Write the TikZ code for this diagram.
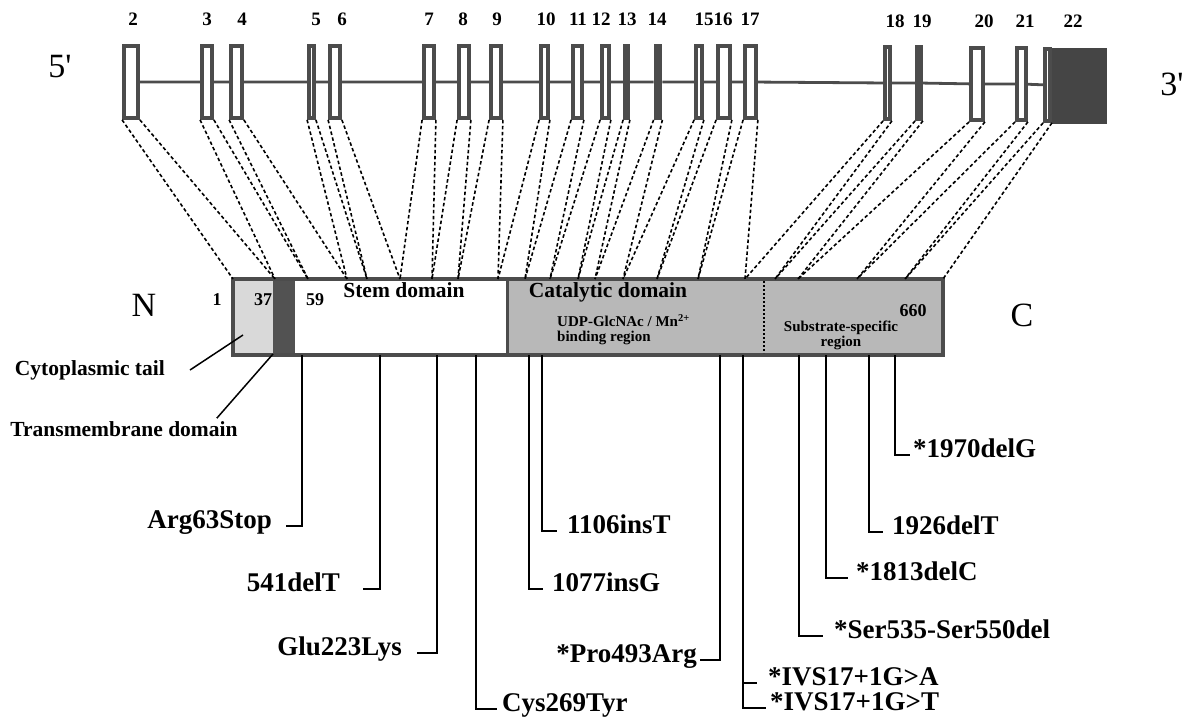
\documentclass[tikz,border=0pt]{standalone}
\usepackage{fontspec}
\setmainfont{Liberation Serif}
\definecolor{exline}{gray}{0.3}
\definecolor{utrfill}{gray}{0.27}
\definecolor{cytofill}{gray}{0.85}
\definecolor{tmfill}{gray}{0.32}
\definecolor{catfill}{gray}{0.72}
\begin{document}
\begin{tikzpicture}[x=1pt, y=-1pt,
    exon/.style={draw=exline, line width=3.8pt, fill=white, minimum height=72pt, inner sep=0pt},
    darkexon/.style={exon, fill=exline},
    intron/.style={draw=exline, line width=2.8pt},
    link/.style={dash pattern=on 3.5pt off 2.5pt, line width=1.6pt},
    mut/.style={line width=1.5pt},
    num/.style={font=\bfseries\fontsize{19}{19}\selectfont, inner sep=0pt},
    endlbl/.style={font=\fontsize{34}{34}\selectfont, inner sep=0pt},
    bartext/.style={font=\bfseries\fontsize{18}{18}\selectfont, inner sep=0pt},
    domtext/.style={font=\bfseries\fontsize{21.5}{21.5}\selectfont, inner sep=0pt, text height=0.68em, text depth=0.2em},
    region/.style={font=\bfseries\fontsize{15}{15}\selectfont, inner sep=0pt},
    side/.style={font=\bfseries\fontsize{21.5}{21.5}\selectfont, inner sep=3pt},
    mlabel/.style={font=\bfseries\fontsize{27}{27}\selectfont, text height=0.68em, text depth=0.2em, inner ysep=0pt}]

    \useasboundingbox (0,0) rectangle (1192,728);

    % gene: exons 2 to 22
    \node[exon, minimum width=14pt] (e2) at (131,82) {};
    \node[exon, minimum width=10pt] (e3) at (207,82) {};
    \node[exon, minimum width=11pt] (e4) at (236.5,82) {};
    \node[exon, minimum width=5pt] (e5) at (311.5,82) {};
    \node[exon, minimum width=10pt] (e6) at (335,82) {};
    \node[exon, minimum width=10pt] (e7) at (429,82) {};
    \node[exon, minimum width=10pt] (e8) at (464,82) {};
    \node[exon, minimum width=10pt] (e9) at (496,82) {};
    \node[exon, minimum width=7pt] (e10) at (544.5,82) {};
    \node[exon, minimum width=9pt] (e11) at (577.5,82) {};
    \node[exon, minimum width=7pt] (e12) at (605.5,82) {};
    \node[darkexon, minimum width=3pt] (e13) at (626.5,82) {};
    \node[darkexon, minimum width=5pt] (e14) at (658,82) {};
    \node[exon, minimum width=6pt] (e15) at (699,82) {};
    \node[exon, minimum width=12pt] (e16) at (724,82) {};
    \node[exon, minimum width=11pt] (e17) at (750.5,82) {};
    \node[exon, minimum width=5pt] (e18) at (887.5,83) {};
    \node[darkexon, minimum width=4pt] (e19) at (919,83) {};
    \node[exon, minimum width=12pt] (e20) at (977,84) {};
    \node[exon, minimum width=9pt] (e21) at (1021.5,84) {};
    \node[exon, minimum width=5pt] (e22) at (1047.5,85) {};
    \node[fill=utrfill, minimum width=55pt, minimum height=76pt, inner sep=0pt] (utr) at (1079.5,86) {};
    \draw[intron] (e2) -- (e3) -- (e4) -- (e5) -- (e6) -- (e7) -- (e8) -- (e9) -- (e10) -- (e11) -- (e12)
        -- (e13) -- (e14) -- (e15) -- (e16) -- (e17) -- (e18) -- (e19) -- (e20) -- (e21) -- (e22);

    \node[endlbl] (five) at (60,67) {5\textquotesingle};
    \node[endlbl] (three) at (1172,84) {3\textquotesingle};

    \node[num] (n2) at (133,19) {2};
    \node[num] (n3) at (207,19) {3};
    \node[num] (n4) at (242,19) {4};
    \node[num] (n5) at (316,19) {5};
    \node[num] (n6) at (342,19) {6};
    \node[num] (n7) at (429,19) {7};
    \node[num] (n8) at (463,19) {8};
    \node[num] (n9) at (497,19) {9};
    \node[num] (n10) at (546,19) {10};
    \node[num] (n11) at (578,19) {11};
    \node[num] (n12) at (601,19) {12};
    \node[num] (n13) at (627,19) {13};
    \node[num] (n14) at (657,19) {14};
    \node[num] (n15) at (704,19) {15};
    \node[num] (n16) at (723,19) {16};
    \node[num] (n17) at (750,19) {17};
    \node[num] (n18) at (895,21) {18};
    \node[num] (n19) at (922,21) {19};
    \node[num] (n20) at (984,21) {20};
    \node[num] (n21) at (1025,21) {21};
    \node[num] (n22) at (1073,21) {22};

    % protein
    \fill[cytofill] (233,279) rectangle (273,355);
    \fill[tmfill] (273,279) rectangle (295,355);
    \fill[catfill] (507,279) rectangle (943,355);
    \draw[exline, line width=3.8pt] (233,279) rectangle (943,355);
    \draw[exline, line width=3pt] (507,279) -- (507,355);
    \draw[dash pattern=on 2pt off 2pt, line width=1.2pt] (764,281) -- (764,353);

    \node (nterm) [endlbl] at (144,305) {N};
    \node (cterm) [endlbl] at (1022,315) {C};
    \node[bartext] (r1) at (217,300) {1};
    \node[bartext] (r37) at (263,300) {37};
    \node[bartext] (r59) at (315,300) {59};
    \node[bartext] (r660) at (913,311) {660};
    \node[domtext] (stem) at (404,295) {Stem domain};
    \node[domtext] (cat) at (608,295) {Catalytic domain};
    \node[region, align=left, anchor=west] (udp) at (557,330) {UDP-GlcNAc / Mn\textsuperscript{2+}\\binding region};
    \node[region, align=center] (substr) at (841,335) {Substrate-specific\\region};

    \node[side, anchor=east, inner xsep=25pt] (cyto) at (190,370) {Cytoplasmic tail};
    \node[side] (tm) at (124,429) {Transmembrane domain};
    \coordinate (cytopt) at (243,335);
    \coordinate (tmpt) at (273,354);
    \draw[mut] (cyto.east) -- (cytopt);
    \draw[mut] ([xshift=-24pt]tm.north east) -- (tmpt);

    % exon borders on the protein
    \coordinate (b2) at (233,279);
    \coordinate (b3) at (275,279);
    \coordinate (b4) at (308,279);
    \coordinate (b5) at (347,279);
    \coordinate (b6) at (367,279);
    \coordinate (b7) at (400,279);
    \coordinate (b8) at (432,279);
    \coordinate (b9) at (458,279);
    \coordinate (b10) at (498,279);
    \coordinate (b11) at (525,279);
    \coordinate (b12) at (550,279);
    \coordinate (b13) at (578,279);
    \coordinate (b14) at (595,279);
    \coordinate (b15) at (623,279);
    \coordinate (b16) at (657,279);
    \coordinate (b17) at (698,279);
    \coordinate (b18) at (745,279);
    \coordinate (b19) at (775,279);
    \coordinate (b20) at (798,279);
    \coordinate (b21) at (857,279);
    \coordinate (b22) at (905,279);
    \coordinate (b23) at (943,279);

    \draw[link] (e2.south west) -- (b2);   \draw[link] (e2.south east) -- (b3);
    \draw[link] (e3.south west) -- (b3);   \draw[link] (e3.south east) -- (b4);
    \draw[link] (e4.south west) -- (b4);   \draw[link] (e4.south east) -- (b5);
    \draw[link] (e5.south west) -- (b5);   \draw[link] (e5.south east) -- (b6);
    \draw[link] (e6.south west) -- (b6);   \draw[link] (e6.south east) -- (b7);
    \draw[link] (e7.south west) -- (b7);   \draw[link] (e7.south east) -- (b8);
    \draw[link] (e8.south west) -- (b8);   \draw[link] (e8.south east) -- (b9);
    \draw[link] (e9.south west) -- (b9);   \draw[link] (e9.south east) -- (b10);
    \draw[link] (e10.south west) -- (b10); \draw[link] (e10.south east) -- (b11);
    \draw[link] (e11.south west) -- (b11); \draw[link] (e11.south east) -- (b12);
    \draw[link] (e12.south west) -- (b12); \draw[link] (e12.south east) -- (b13);
    \draw[link] (e13.south west) -- (b13); \draw[link] (e13.south east) -- (b14);
    \draw[link] (e14.south west) -- (b14); \draw[link] (e14.south east) -- (b15);
    \draw[link] (e15.south west) -- (b15); \draw[link] (e15.south east) -- (b16);
    \draw[link] (e16.south west) -- (b16); \draw[link] (e16.south east) -- (b17);
    \draw[link] (e17.south west) -- (b17); \draw[link] (e17.south east) -- (b18);
    \draw[link] (e18.south west) -- (b18); \draw[link] (e18.south east) -- (b19);
    \draw[link] (e19.south west) -- (b19); \draw[link] (e19.south east) -- (b20);
    \draw[link] (e20.south west) -- (b20); \draw[link] (e20.south east) -- (b21);
    \draw[link] (e21.south west) -- (b21); \draw[link] (e21.south east) -- (b22);
    \draw[link] (e22.south west) -- (b22); \draw[link] (e22.south east) -- (b23);

    % mutations
    \coordinate (ma) at (302,355);
    \coordinate (mb) at (380,355);
    \coordinate (mc) at (437,355);
    \coordinate (md) at (476,355);
    \coordinate (me) at (529,355);
    \coordinate (mf) at (542,355);
    \coordinate (mg) at (720,355);
    \coordinate (mh) at (743,355);
    \coordinate (mi) at (799,355);
    \coordinate (mj) at (826,355);
    \coordinate (mk) at (869,355);
    \coordinate (ml) at (895,355);

    \node[mlabel, anchor=east, inner xsep=14pt] (arg) at (286,526) {Arg63Stop};
    \node[mlabel, anchor=east, inner xsep=23pt] (del541) at (363,589) {541delT};
    \node[mlabel, anchor=east, inner xsep=15pt] (glu) at (417,653) {Glu223Lys};
    \node[mlabel, anchor=west, inner xsep=5pt] (cys) at (497,709) {Cys269Tyr};
    \node[mlabel, anchor=west, inner xsep=9pt] (ins1077) at (543,589) {1077insG};
    \node[mlabel, anchor=west, inner xsep=10pt] (ins1106) at (557,531) {1106insT};
    \node[mlabel, anchor=east, inner xsep=3pt] (pro) at (700,660) {*Pro493Arg};
    \node[mlabel, anchor=west, inner xsep=11pt] (ivsa) at (757,683) {*IVS17+1G>A};
    \node[mlabel, anchor=west, inner xsep=4pt] (ivst) at (766,708) {*IVS17+1G>T};
    \node[mlabel, anchor=west, inner xsep=11pt] (ser) at (823,636) {*Ser535-Ser550del};
    \node[mlabel, anchor=west, inner xsep=8pt] (del1813) at (848,578) {*1813delC};
    \node[mlabel, anchor=west, inner xsep=9pt] (del1926) at (883,532) {1926delT};
    \node[mlabel, anchor=west, inner xsep=3pt] (del1970) at (910,455) {*1970delG};

    \draw[mut] (ma) |- (arg.east);
    \draw[mut] (mb) |- (del541.east);
    \draw[mut] (mc) |- (glu.east);
    \draw[mut] (md) |- (cys.west);
    \draw[mut] (me) |- (ins1077.west);
    \draw[mut] (mf) |- (ins1106.west);
    \draw[mut] (mg) |- (pro.east);
    \draw[mut] (mh) |- (ivst.west);
    \draw[mut] (mh |- ivsa.west) -- (ivsa.west);
    \draw[mut] (mi) |- (ser.west);
    \draw[mut] (mj) |- (del1813.west);
    \draw[mut] (mk) |- (del1926.west);
    \draw[mut] (ml) |- (del1970.west);
\end{tikzpicture}
\end{document}
